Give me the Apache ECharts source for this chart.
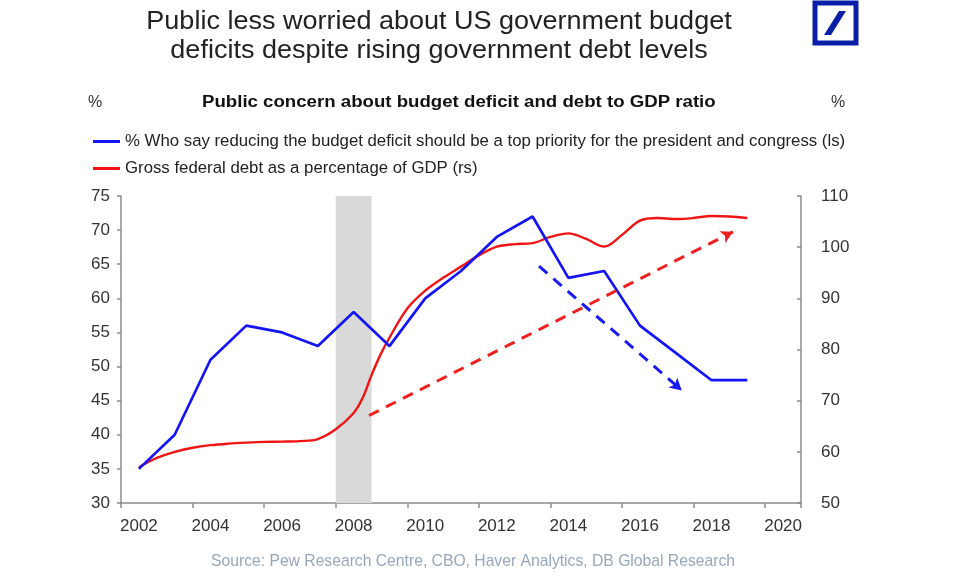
<!DOCTYPE html>
<html>
<head>
<meta charset="utf-8">
<script src="https://cdn.jsdelivr.net/npm/echarts@6/dist/echarts.min.js"></script>
<style>
html,body{margin:0;padding:0;background:#fff;}
#chart{width:960px;height:576px;}
</style>
</head>
<body>
<div id="chart"></div>
<script>
// ---- data ----
var years = ['2002','2003','2004','2005','2006','2007','2008','2009','2010','2011','2012','2013','2014','2015','2016','2017','2018','2019','2020'];
var priorityPct = [35, 40, 51, 56, 55, 53, 58, 53, 60, 64, 69, 72, 63, 64, 56, 52, 48, 48];
var debtYears = [2002.0, 2002.5, 2003.0, 2003.5, 2004.0, 2004.5, 2005.0, 2005.5, 2006.0, 2006.5, 2007.0, 2007.5, 2008.0, 2008.25, 2008.5, 2008.75, 2009.0, 2009.5, 2010.0, 2010.5, 2011.0, 2011.5, 2012.0, 2012.5, 2013.0, 2013.5, 2014.0, 2014.5, 2015.0, 2015.5, 2016.0, 2016.5, 2017.0, 2017.5, 2018.0, 2018.5, 2019.0];
var debtPctGDP = [57.0, 58.8, 60.0, 60.8, 61.3, 61.6, 61.8, 61.95, 62.0, 62.1, 62.5, 64.4, 67.6, 70.5, 75.0, 79.0, 82.3, 88.0, 91.5, 94.0, 96.2, 98.4, 100.1, 100.6, 100.8, 102.0, 102.7, 101.6, 100.1, 102.4, 105.2, 105.7, 105.5, 105.7, 106.1, 106.0, 105.7];
var recessionBand = [2007.5, 2008.5];
// trend arrows in (year, right-axis value)
var debtTrendArrow = [[2008.43, 67.1], [2018.6, 103.0]];
var concernTrendArrow = [[2013.18, 96.3], [2017.17, 72.0]];
var seriesNames = ['% Who say reducing the budget deficit should be a top priority for the president and congress (ls)', 'Gross federal debt as a percentage of GDP (rs)'];
var titleText = 'Public less worried about US government budget\ndeficits despite rising government debt levels';
var subtitleText = 'Public concern about budget deficit and debt to GDP ratio';
var sourceText = 'Source: Pew Research Centre, CBO, Haver Analytics, DB Global Research';

var FONT = "'Liberation Sans', Arial, sans-serif";
var chart = echarts.init(document.getElementById('chart'), null, {renderer: 'canvas'});

var debtData = debtYears.map(function (y, i) { return [y, debtPctGDP[i]]; });

var option = {
  backgroundColor: '#ffffff',
  animation: false,
  textStyle: {fontFamily: FONT},
  grid: {left: 121, right: 159, top: 196, bottom: 73, containLabel: false},
  legend: {
    data: seriesNames,
    orient: 'vertical',
    left: 93, top: 133, padding: 0,
    icon: 'rect', itemWidth: 27, itemHeight: 3, itemGap: 10,
    textStyle: {fontSize: 16.8, color: '#222', fontFamily: FONT}
  },
  graphic: [
    {type: 'text', x: 439, y: 8, scaleX: 1.08, originX: 0, style: {text: titleText, textAlign: 'center', textVerticalAlign: 'top', font: '25px ' + FONT, fill: '#222', lineHeight: 29}},
    {type: 'text', x: 202, y: 103, scaleX: 1.165, originX: 0, style: {text: subtitleText, textAlign: 'left', textVerticalAlign: 'middle', font: 'bold 16px ' + FONT, fill: '#111'}},
    {type: 'text', x: 88, y: 103, style: {text: '%', textVerticalAlign: 'middle', font: '16px ' + FONT, fill: '#333'}},
    {type: 'text', x: 831, y: 103, style: {text: '%', textVerticalAlign: 'middle', font: '16px ' + FONT, fill: '#333'}},
    {type: 'text', x: 211, y: 562, style: {text: sourceText, textVerticalAlign: 'middle', font: '15.7px ' + FONT, fill: '#97a7ba'}},
    {type: 'rect', shape: {x: 815, y: 3, width: 41, height: 40}, style: {fill: '#fff', stroke: '#0a1ea8', lineWidth: 5}},
    {type: 'polygon', shape: {points: [[824, 35], [831, 35], [846, 11], [839, 11]]}, style: {fill: '#0a1ea8'}}
  ],
  xAxis: [
    {
      type: 'category', data: years, boundaryGap: true, gridIndex: 0,
      axisLine: {show: true, lineStyle: {color: '#8c8c8c', width: 1.5}},
      axisTick: {show: true, interval: 1, length: 5, lineStyle: {color: '#8c8c8c', width: 1.5}},
      axisLabel: {interval: 1, margin: 15, fontSize: 17, color: '#333', fontFamily: FONT},
      splitLine: {show: false}
    },
    {
      type: 'value', min: 2001.5, max: 2020.5, show: false, gridIndex: 0
    }
  ],
  yAxis: [
    {
      type: 'value', min: 30, max: 75, interval: 5, position: 'left',
      axisLine: {show: true, lineStyle: {color: '#8c8c8c', width: 1.5}},
      axisTick: {show: true, length: 4, lineStyle: {color: '#8c8c8c', width: 1.5}},
      axisLabel: {margin: 11, fontSize: 17, color: '#333', fontFamily: FONT},
      splitLine: {show: false}
    },
    {
      type: 'value', min: 50, max: 110, interval: 10, position: 'right',
      axisLine: {show: true, lineStyle: {color: '#8c8c8c', width: 1.5}},
      axisTick: {show: true, inside: true, length: 4, lineStyle: {color: '#8c8c8c', width: 1.5}},
      axisLabel: {margin: 20, fontSize: 17, color: '#333', fontFamily: FONT},
      splitLine: {show: false}
    }
  ],
  series: [
    {
      name: 'band', type: 'line', xAxisIndex: 1, yAxisIndex: 1, data: [], z: 1,
      silent: true,
      markArea: {silent: true, itemStyle: {color: '#d9d9d9'}, data: [[{xAxis: recessionBand[0]}, {xAxis: recessionBand[1]}]]}
    },
    {
      name: seriesNames[0], type: 'line', xAxisIndex: 0, yAxisIndex: 0,
      data: priorityPct, symbol: 'none', z: 4,
      itemStyle: {color: '#1414f5'},
      lineStyle: {color: '#1414f5', width: 2.7}
    },
    {
      name: seriesNames[1], type: 'line', xAxisIndex: 1, yAxisIndex: 1,
      data: debtData, symbol: 'none', smooth: 0.35, z: 3,
      itemStyle: {color: '#f01414'},
      lineStyle: {color: '#f01414', width: 2.4}
    },
    {
      name: 'arrows', type: 'line', xAxisIndex: 1, yAxisIndex: 1, data: [], z: 5,
      silent: true,
      markLine: {
        silent: true, symbol: ['none', 'arrow'], symbolSize: [10, 12],
        label: {show: false},
        data: [
          [{coord: debtTrendArrow[0], lineStyle: {color: '#f02020', width: 3, type: [11, 8]}}, {coord: debtTrendArrow[1]}],
          [{coord: concernTrendArrow[0], lineStyle: {color: '#1a1aee', width: 3, type: [11, 8]}}, {coord: concernTrendArrow[1]}]
        ]
      }
    }
  ]
};
chart.setOption(option);
</script>
</body>
</html>
